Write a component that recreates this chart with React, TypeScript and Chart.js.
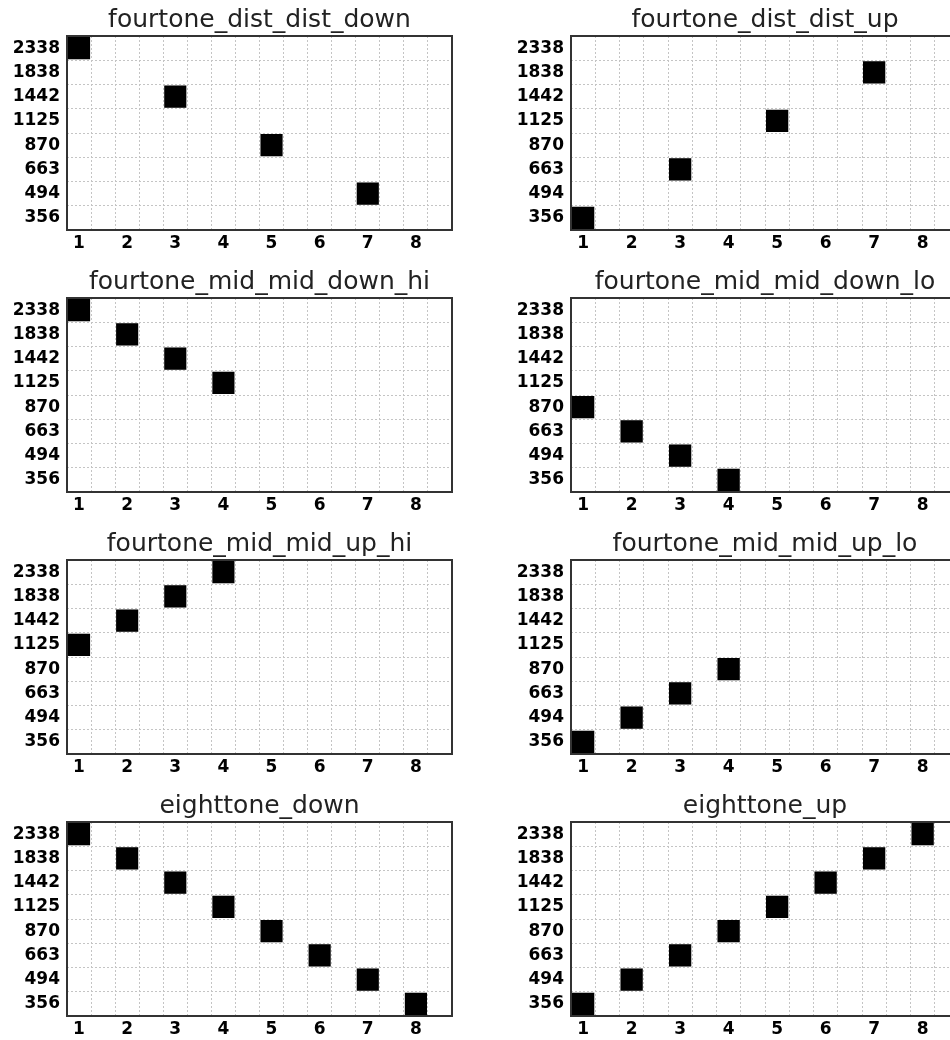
import React, { useEffect, useRef } from 'react';
import { Chart, registerables } from 'chart.js';

Chart.register(...registerables);

// Frequency rows, bottom to top
const FREQS = [356, 494, 663, 870, 1125, 1442, 1838, 2338];
// Time steps (x axis)
const TIMES = ['1', '2', '3', '4', '5', '6', '7', '8'];

// Panel titles (reading order: left→right, top→bottom)
const TITLES = [
  'fourtone_dist_dist_down',
  'fourtone_dist_dist_up',
  'fourtone_mid_mid_down_hi',
  'fourtone_mid_mid_down_lo',
  'fourtone_mid_mid_up_hi',
  'fourtone_mid_mid_up_lo',
  'eighttone_down',
  'eighttone_up',
];

// Frequency played at each time step (null = silence)
const fourtoneDistDistDown = [2338, null, 1442, null, 870, null, 494, null];
const fourtoneDistDistUp = [356, null, 663, null, 1125, null, 1838, null];
const fourtoneMidMidDownHi = [2338, 1838, 1442, 1125, null, null, null, null];
const fourtoneMidMidDownLo = [870, 663, 494, 356, null, null, null, null];
const fourtoneMidMidUpHi = [1125, 1442, 1838, 2338, null, null, null, null];
const fourtoneMidMidUpLo = [356, 494, 663, 870, null, null, null, null];
const eighttoneDown = [2338, 1838, 1442, 1125, 870, 663, 494, 356];
const eighttoneUp = [356, 494, 663, 870, 1125, 1442, 1838, 2338];

const SERIES = [
  fourtoneDistDistDown,
  fourtoneDistDistUp,
  fourtoneMidMidDownHi,
  fourtoneMidMidDownLo,
  fourtoneMidMidUpHi,
  fourtoneMidMidUpLo,
  eighttoneDown,
  eighttoneUp,
];

const PANEL_H = 262;
const COL_W = [475, 490];
const COL_LEFT = [0, 475];
const Y_AXIS_W = [67, 96];
const PAD_RIGHT = [23, 6];

const boxPlugin = {
  id: 'plotBox',
  afterDraw(chart: any) {
    const { ctx, chartArea } = chart;
    ctx.save();
    ctx.strokeStyle = '#333333';
    ctx.lineWidth = 2;
    ctx.strokeRect(
      chartArea.left,
      chartArea.top,
      chartArea.right - chartArea.left,
      chartArea.bottom - chartArea.top
    );
    ctx.restore();
  },
};

const TICK_FONT = { family: '"DejaVu Sans", sans-serif', size: 17, weight: 'bold' as const };

function Panel({ idx }: { idx: number }) {
  const ref = useRef<HTMLCanvasElement | null>(null);
  const col = idx % 2;
  const row = Math.floor(idx / 2);

  useEffect(() => {
    if (!ref.current) return;
    const values = SERIES[idx];
    const labels = TIMES.flatMap((t) => [t, '']);
    const data = labels.map((_, i) => {
      if (i % 2 === 1) return null;
      const f = values[i / 2];
      if (f == null) return null;
      const r = FREQS.indexOf(f);
      return [r + 0.04, r + 0.96];
    });

    const chart = new Chart(ref.current, {
      type: 'bar',
      data: {
        labels,
        datasets: [
          {
            data: data as any,
            backgroundColor: '#000000',
            borderWidth: 0,
            barPercentage: 0.92,
            categoryPercentage: 1,
          },
        ],
      },
      options: {
        animation: false,
        responsive: false,
        devicePixelRatio: 1,
        layout: { padding: { left: 0, right: PAD_RIGHT[col], top: 0, bottom: 0 } },
        plugins: {
          legend: { display: false },
          tooltip: { enabled: false },
          title: {
            display: true,
            text: TITLES[idx],
            fullSize: false,
            color: '#222222',
            font: { family: '"DejaVu Sans", sans-serif', size: 25, weight: 'normal', lineHeight: 1 },
            padding: { top: 8, bottom: 3 },
          },
        },
        scales: {
          x: {
            type: 'category',
            offset: true,
            grid: {
              offset: true,
              drawTicks: false,
              color: '#c4c4c4',
              lineWidth: 1,
            },
            border: { display: false, dash: [2, 2] },
            ticks: {
              autoSkip: false,
              maxRotation: 0,
              minRotation: 0,
              padding: 3,
              color: '#000000',
              font: TICK_FONT,
            },
            afterFit: (s: any) => {
              s.height = 32;
            },
          },
          y: {
            type: 'linear',
            min: 0,
            max: FREQS.length,
            afterBuildTicks: (s: any) => {
              const t: any[] = [];
              for (let i = 0; i <= FREQS.length; i++) {
                t.push({ value: i });
                if (i < FREQS.length) t.push({ value: i + 0.5 });
              }
              s.ticks = t;
            },
            grid: {
              drawTicks: false,
              lineWidth: 1,
              color: (c: any) =>
                c.tick && Number.isInteger(c.tick.value) ? '#c4c4c4' : 'rgba(0,0,0,0)',
            },
            border: { display: false, dash: [2, 2] },
            ticks: {
              autoSkip: false,
              padding: 7,
              color: '#000000',
              font: TICK_FONT,
              callback: (v: any) =>
                Number(v) % 1 === 0.5 ? String(FREQS[Math.floor(Number(v))]) : '',
            },
            afterFit: (s: any) => {
              s.width = Y_AXIS_W[col];
            },
          },
        },
      },
      plugins: [boxPlugin],
    });
    return () => chart.destroy();
  }, [idx, col]);

  return (
    <canvas
      ref={ref}
      width={COL_W[col]}
      height={PANEL_H}
      style={{
        position: 'absolute',
        left: COL_LEFT[col],
        top: row * PANEL_H,
        width: COL_W[col],
        height: PANEL_H,
      }}
    />
  );
}

export default function App() {
  return (
    <div
      style={{
        position: 'absolute',
        left: 0,
        top: 0,
        width: 950,
        height: 1040,
        overflow: 'hidden',
        background: '#ffffff',
      }}
    >
      {TITLES.map((_, i) => (
        <Panel key={i} idx={i} />
      ))}
    </div>
  );
}
